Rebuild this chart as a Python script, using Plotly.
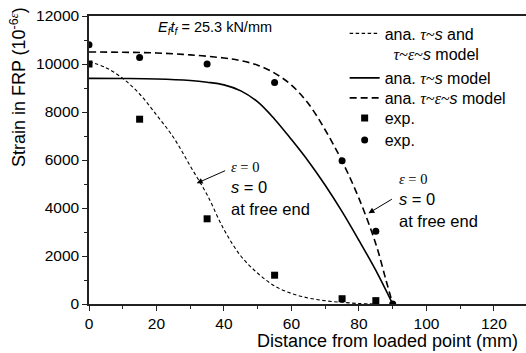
import plotly.graph_objects as go

# Analytical curves: distance from loaded point (mm) vs strain (10^-6)
x_both = [0, 5, 10, 15, 20, 25, 30, 35, 40, 45, 50, 55, 60, 65, 70, 75, 80, 85]
y_both = [10100, 9850, 9400, 8750, 7880, 6950, 5750, 4550, 3100, 2000, 1280, 750, 440, 250, 135, 70, 20, 0]

x_tau_s = [0, 10, 20, 30, 35, 40, 45, 50, 55, 60, 65, 70, 75, 80, 85, 90]
y_tau_s = [9400, 9395, 9375, 9310, 9240, 9130, 8880, 8420, 7700, 6850, 5950, 4950, 3850, 2650, 1400, 0]

x_tau_eps_s = [0, 10, 20, 30, 40, 45, 50, 55, 60, 65, 70, 75, 80, 85, 88, 90]
y_tau_eps_s = [10500, 10490, 10460, 10380, 10250, 10140, 9950, 9620, 9120, 8350, 7250, 5950, 4400, 2500, 1000, 0]

# Experimental strains
x_exp_sq = [0, 15, 35, 55, 75, 85]
y_exp_sq = [10000, 7700, 3550, 1200, 220, 140]
x_exp_ci = [0, 15, 35, 55, 75, 85, 90]
y_exp_ci = [10800, 10270, 10000, 9230, 5970, 3030, 0]

x_ticks = [0, 20, 40, 60, 80, 100, 120]
y_ticks = [0, 2000, 4000, 6000, 8000, 10000, 12000]

SANS = "Liberation Sans, Arial, sans-serif"
SERIF_SPAN = '<span style="font-family:Liberation Serif">{}</span>'
tau = SERIF_SPAN.format("<i>τ</i>~")
eps = SERIF_SPAN.format("<i>ε</i>~")

fig = go.Figure()
fig.add_trace(go.Scatter(
    x=x_both, y=y_both, mode="lines", line_shape="spline", legend="legend",
    line=dict(color="black", width=1.1, dash="3.5px,2.5px"),
    name=f"ana. {tau}<i>s</i> and<br>  {tau}{eps}<i>s</i> model"))
fig.add_trace(go.Scatter(
    x=x_tau_s, y=y_tau_s, mode="lines", line_shape="spline", legend="legend2",
    line=dict(color="black", width=1.6),
    name=f"ana. {tau}<i>s</i> model"))
fig.add_trace(go.Scatter(
    x=x_tau_eps_s, y=y_tau_eps_s, mode="lines", line_shape="spline", legend="legend3",
    line=dict(color="black", width=1.6, dash="7px,4px"),
    name=f"ana. {tau}{eps}<i>s</i> model"))
fig.add_trace(go.Scatter(
    x=x_exp_sq, y=y_exp_sq, mode="markers", legend="legend4",
    marker=dict(symbol="square", size=7, color="black"), name="exp."))
fig.add_trace(go.Scatter(
    x=x_exp_ci, y=y_exp_ci, mode="markers", legend="legend5",
    marker=dict(symbol="circle", size=7, color="black"), name="exp."))

axis_common = dict(
    showgrid=False, zeroline=False, showline=True, linecolor="#222",
    linewidth=1.5, ticks="outside", ticklen=5, tickwidth=1.2, tickcolor="#222",
    tickfont=dict(family=SANS, size=15.5, color="black"), tickformat="d",
    minor=dict(ticks="outside", ticklen=3, tickwidth=1, tickcolor="#222"),
)
fig.update_xaxes(range=[0, 129.5], tickvals=x_ticks, mirror=True,
                 minor_dtick=10, minor_tick0=0, **axis_common)
fig.update_yaxes(range=[0, 12000], tickvals=y_ticks,
                 minor_dtick=1000, minor_tick0=0, **axis_common)

annos = [
    # axis titles
    dict(text="Distance from loaded point (mm)", x=0.684, y=-0.128,
         xref="paper", yref="paper", xanchor="center", yanchor="middle",
         showarrow=False, font=dict(family=SANS, size=18, color="black")),
    dict(text='Strain in FRP (10<sup>-6</sup><sup>' + SERIF_SPAN.format("<i>ε</i>") + '</sup>)',
         x=-0.1625, y=0.753, xref="paper", yref="paper",
         xanchor="center", yanchor="middle", showarrow=False,
         textangle=-90, font=dict(family=SANS, size=18, color="black")),
    # stiffness label
    dict(text="<i>E</i><sub><i>f</i></sub><i>t</i><sub><i>f</i></sub> = 25.3 kN/mm",
         x=20, y=11480, xanchor="left", yanchor="middle", showarrow=False,
         font=dict(family=SANS, size=14.5, color="black")),
]

# free-end condition labels with arrows
for (tx, ty, hx, hy, lx, ly) in [(40.8, 5583, 31.9, 5029, 41.4, 4830),
                                 (90.2, 4404, 82.8, 3779, 91.4, 4330)]:
    annos.append(dict(x=hx, y=hy, ax=tx, ay=ty, axref="x", ayref="y",
                      text="", showarrow=True, arrowhead=2, arrowsize=1.2,
                      arrowwidth=1, arrowcolor="black"))
    annos.append(dict(
        x=lx, y=ly, xanchor="left", yanchor="middle", align="left",
        showarrow=False, font=dict(family=SANS, size=16.5, color="black"),
        text=(SERIF_SPAN.format('<span style="font-size:14.5px"><i>ε</i> = 0</span>')
              + "<br><i>s</i> = 0<br>at free end")))


def legend_box(row_px, anchor="middle"):
    # one legend per entry so each row sits at its own height
    return dict(x=0.585, y=(304 - row_px) / 288, xanchor="left", yanchor=anchor,
                bgcolor="rgba(0,0,0,0)", borderwidth=0,
                font=dict(family=SANS, size=16, color="black"),
                valign="top", itemwidth=30, tracegroupgap=0)


fig.update_layout(
    width=526, height=353,
    margin=dict(l=89, r=0, t=16, b=49),
    paper_bgcolor="white", plot_bgcolor="white",
    font=dict(family=SANS, size=15, color="black"),
    showlegend=True,
    legend=legend_box(44),
    legend2=legend_box(78),
    legend3=legend_box(98),
    legend4=legend_box(118),
    legend5=legend_box(140),
    annotations=annos,
)

fig.write_html("out.html")
